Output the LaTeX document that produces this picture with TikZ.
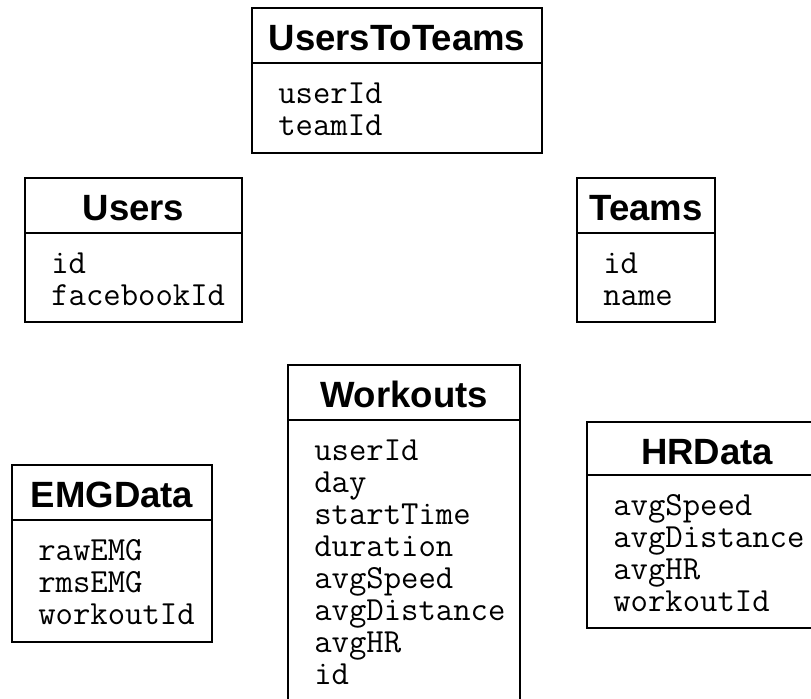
\documentclass[tikz,border=0pt]{standalone}
\usepackage{fontspec}
\usepackage{tikz}
\usetikzlibrary{positioning}
\newfontfamily\titlefont{Liberation Sans}

\begin{document}
\begin{tikzpicture}[
    x=0.25mm, y=-0.25mm,
    dbtable/.style={rectangle, draw, line width=2pt, anchor=north west, inner sep=0pt, outer sep=0pt},
    header/.style={anchor=base, inner sep=0pt, font=\titlefont\bfseries\fontsize{26}{30}\selectfont},
    fieldtext/.style={anchor=base west, inner sep=0pt, font=\ttfamily\fontsize{24}{28}\selectfont},
    headline/.style={line width=2pt}
]
    \useasboundingbox (0,0) rectangle (811,698);
    \clip (0,0) rectangle (811,698);
    \fill[white] (0,0) rectangle (811,698);

    % UsersToTeams
    \node[dbtable, minimum width=72.5mm, minimum height=36.25mm] (utt) at (252,8) {};
    \draw[headline] ([yshift=-13.75mm]utt.north west) -- ([yshift=-13.75mm]utt.north east);
    \node[header] (utt-title) at ([yshift=-10.5mm]utt.north) {UsersToTeams};
    \foreach \f [count=\i] in {userId,teamId}
        \node[fieldtext] (utt-f\i) at ([xshift=6.5mm, yshift=-(95+32*(\i-1))*0.25mm]utt.north west) {\f};

    % Users
    \node[dbtable, minimum width=54.25mm, minimum height=36mm] (users) at (25,178) {};
    \draw[headline] ([yshift=-13.75mm]users.north west) -- ([yshift=-13.75mm]users.north east);
    \node[header] (users-title) at ([yshift=-10.5mm]users.north) {Users};
    \foreach \f [count=\i] in {id,facebookId}
        \node[fieldtext] (users-f\i) at ([xshift=6.5mm, yshift=-(95+32*(\i-1))*0.25mm]users.north west) {\f};

    % Teams
    \node[dbtable, minimum width=34.5mm, minimum height=36mm] (teams) at (577,178) {};
    \draw[headline] ([yshift=-13.75mm]teams.north west) -- ([yshift=-13.75mm]teams.north east);
    \node[header] (teams-title) at ([yshift=-10.5mm]teams.north) {Teams};
    \foreach \f [count=\i] in {id,name}
        \node[fieldtext] (teams-f\i) at ([xshift=6.5mm, yshift=-(95+32*(\i-1))*0.25mm]teams.north west) {\f};

    % Workouts
    \node[dbtable, minimum width=58mm, minimum height=86.25mm] (workouts) at (288,365) {};
    \draw[headline] ([yshift=-13.75mm]workouts.north west) -- ([yshift=-13.75mm]workouts.north east);
    \node[header] (workouts-title) at ([yshift=-10.5mm]workouts.north) {Workouts};
    \foreach \f [count=\i] in {userId,day,startTime,duration,avgSpeed,avgDistance,avgHR,id}
        \node[fieldtext] (workouts-f\i) at ([xshift=6.5mm, yshift=-(95+32*(\i-1))*0.25mm]workouts.north west) {\f};

    % EMGData
    \node[dbtable, minimum width=50mm, minimum height=44.25mm] (emg) at (12,465) {};
    \draw[headline] ([yshift=-13.75mm]emg.north west) -- ([yshift=-13.75mm]emg.north east);
    \node[header] (emg-title) at ([yshift=-10.5mm]emg.north) {EMGData};
    \foreach \f [count=\i] in {rawEMG,rmsEMG,workoutId}
        \node[fieldtext] (emg-f\i) at ([xshift=6.5mm, yshift=-(95+32*(\i-1))*0.25mm]emg.north west) {\f};

    % HRData
    \node[dbtable, minimum width=60mm, minimum height=51.5mm] (hr) at (587,422) {};
    \draw[headline] ([yshift=-13.25mm]hr.north west) -- ([yshift=-13.25mm]hr.north east);
    \node[header] (hr-title) at ([yshift=-10.5mm]hr.north) {HRData};
    \foreach \f [count=\i] in {avgSpeed,avgDistance,avgHR,workoutId}
        \node[fieldtext] (hr-f\i) at ([xshift=6.5mm, yshift=-(93+32*(\i-1))*0.25mm]hr.north west) {\f};
\end{tikzpicture}
\end{document}
